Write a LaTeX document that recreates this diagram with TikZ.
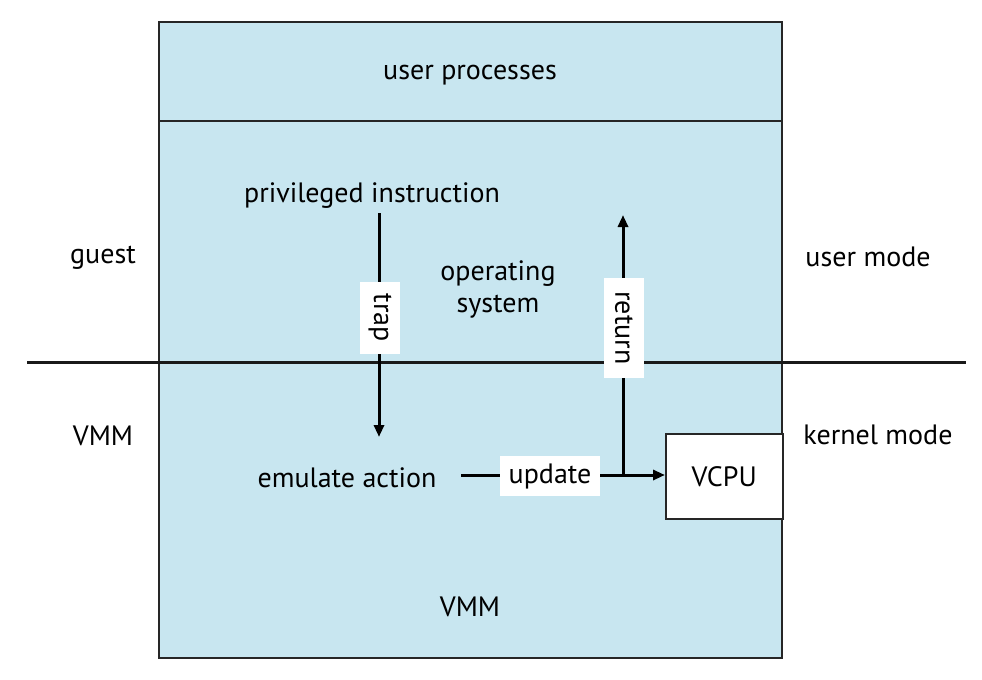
\documentclass[tikz,border=0pt]{standalone}
\usepackage{fontspec}
\setmainfont{PT Sans}
\usetikzlibrary{arrows.meta}
\definecolor{vmblue}{RGB}{200,230,240}
\begin{document}
\begin{tikzpicture}[x=0.5pt,y=-0.5pt,
  lbl/.style={font=\fontsize{14}{16}\selectfont, align=center, inner sep=0pt},
  tag/.style={lbl, fill=white, inner xsep=4pt, minimum height=20pt},
  flow/.style={line width=1.5pt, -{Triangle[length=6pt,width=5pt]}},
  frame/.style={draw=black!85, line width=0.75pt}]
  \useasboundingbox (0,0) rectangle (982,680);
  % machine box with the user-process strip on top
  \draw[frame, fill=vmblue] (159,22) rectangle (782,658);
  \draw[frame] (159,121) -- (782,121);
  % guest / VMM boundary
  \coordinate (bl) at (27,362);
  \coordinate (br) at (966,362);
  \draw[line width=1.5pt, black!90] (bl) -- (br);
  % VCPU box
  \node[frame, fill=white, minimum width=58.5pt, minimum height=42.5pt, lbl,
        anchor=north west] (vcpu) at (665,433) {VCPU};
  % texts
  \node[lbl] (up) at (470,75) {user processes};
  \node[lbl] (pi) at (372,196) {privileged instruction};
  \node[lbl] (os) at (498,289) {operating\\system};
  \node[lbl] (ea) at (347,478) {emulate action};
  \node[lbl] (vmm) at (470,607) {VMM};
  \node[lbl] (guest) at (103,258) {guest};
  \node[lbl] (vmml) at (103,436) {VMM};
  \node[lbl] (um) at (868,257) {user mode};
  \node[lbl] (km) at (878,435) {kernel mode};
  % trap
  \coordinate (trapA) at (379,213);
  \coordinate (trapB) at (379,437);
  \draw[flow] (trapA) -- (trapB);
  \node[tag, rotate=-90, minimum width=36pt] (trap) at (380,318) {trap};
  % update to VCPU
  \coordinate (updA) at (461,475);
  \coordinate (junc) at (623,475);
  \draw[flow] (updA) -- (vcpu.west |- updA);
  \node[tag, minimum width=50pt] (upd) at (550,476) {update};
  % return
  \coordinate (retB) at (623,215);
  \draw[flow] (junc) -- (retB);
  \node[tag, rotate=-90, minimum width=50pt] (ret) at (624,328) {return};
\end{tikzpicture}
\end{document}
